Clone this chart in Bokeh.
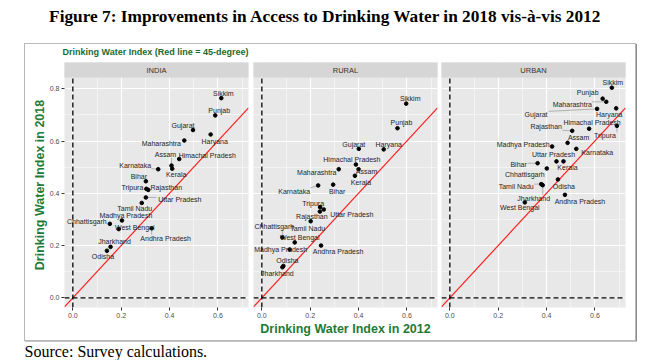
from bokeh.plotting import figure
from bokeh.models import Range1d, FixedTicker, NumeralTickFormatter, Spacer
from bokeh.layouts import row, column
from bokeh.core.properties import value
from bokeh.embed import file_html
from bokeh.resources import INLINE

# ---------------- data ----------------
PANELS = ["INDIA", "RURAL", "URBAN"]

INDIA_STATES = ["Sikkim", "Punjab", "Gujarat", "Haryana", "Maharashtra", "Himachal Pradesh",
                "Assam", "Kerala", "Karnataka", "Bihar", "Tripura", "Rajasthan", "Uttar Pradesh",
                "Tamil Nadu", "Madhya Pradesh", "Chhattisgarh", "West Bengal", "Andhra Pradesh",
                "Jharkhand", "Odisha"]
INDIA_2012 = [0.614, 0.589, 0.497, 0.570, 0.461, 0.440, 0.408, 0.411, 0.353, 0.302,
              0.304, 0.312, 0.302, 0.285, 0.203, 0.153, 0.190, 0.326, 0.156, 0.141]
INDIA_2018 = [0.764, 0.698, 0.642, 0.625, 0.602, 0.531, 0.506, 0.494, 0.492, 0.446,
              0.417, 0.413, 0.384, 0.363, 0.296, 0.283, 0.263, 0.266, 0.195, 0.180]

RURAL_STATES = ["Sikkim", "Punjab", "Gujarat", "Haryana", "Himachal Pradesh", "Maharashtra",
                "Assam", "Kerala", "Karnataka", "Bihar", "Tripura", "Uttar Pradesh", "Rajasthan",
                "Tamil Nadu", "Chhattisgarh", "West Bengal", "Madhya Pradesh", "Andhra Pradesh",
                "Odisha", "Jharkhand"]
RURAL_2012 = [0.597, 0.561, 0.401, 0.504, 0.389, 0.318, 0.400, 0.385, 0.233, 0.295,
              0.241, 0.256, 0.240, 0.202, 0.085, 0.136, 0.115, 0.245, 0.089, 0.085]
RURAL_2018 = [0.743, 0.649, 0.570, 0.568, 0.510, 0.492, 0.492, 0.467, 0.430, 0.433,
              0.347, 0.338, 0.330, 0.293, 0.231, 0.212, 0.185, 0.200, 0.122, 0.117]

URBAN_STATES = ["Sikkim", "Punjab", "Maharashtra", "Gujarat", "Haryana", "Tripura",
                "Himachal Pradesh", "Rajasthan", "Assam", "Madhya Pradesh", "Karnataka",
                "Uttar Pradesh", "Kerala", "Bihar", "Chhattisgarh", "Tamil Nadu", "Odisha",
                "Andhra Pradesh", "West Bengal", "Jharkhand"]
URBAN_2012 = [0.670, 0.632, 0.647, 0.609, 0.688, 0.691, 0.576, 0.506, 0.487, 0.423,
              0.523, 0.441, 0.470, 0.363, 0.401, 0.378, 0.447, 0.476, 0.310, 0.384]
URBAN_2018 = [0.804, 0.762, 0.750, 0.723, 0.725, 0.658, 0.647, 0.639, 0.593, 0.579,
              0.570, 0.522, 0.522, 0.515, 0.495, 0.435, 0.453, 0.394, 0.365, 0.431]

X_TICKS = [0.0, 0.2, 0.4, 0.6]
X_MINOR = [0.1, 0.3, 0.5, 0.7]
Y_TICKS = [0.0, 0.2, 0.4, 0.6, 0.8]
Y_MINOR = [0.1, 0.3, 0.5, 0.7]

TITLE = "Figure 7: Improvements in Access to Drinking Water in 2018 vis-à-vis 2012"
SUBTITLE = "Drinking Water Index (Red line = 45-degree)"
X_TITLE = "Drinking Water Index in 2012"
Y_TITLE = "Drinking Water Index in 2018"
SOURCE = "Source: Survey calculations."

# ---------------- layout / style ----------------
# label offsets (screen px, +dy = down) mimicking repelled labels
LABEL_OFFSETS = {
    "INDIA": {"Sikkim": (2, -5), "Punjab": (4, -5), "Gujarat": (-10, -5), "Haryana": (4, 7),
              "Maharashtra": (-23, 3), "Himachal Pradesh": (28, -4), "Assam": (-6, -11),
              "Kerala": (4, 6), "Karnataka": (-23, -4), "Bihar": (-7, -5), "Tripura": (-14, -1),
              "Rajasthan": (18, -2), "Uttar Pradesh": (34, 2), "Tamil Nadu": (-7, 6),
              "Madhya Pradesh": (4, -5), "Chhattisgarh": (-23, -2), "West Bengal": (16, -2),
              "Andhra Pradesh": (14, 10), "Jharkhand": (4, -5), "Odisha": (-4, 6)},
    "RURAL": {"Sikkim": (4, -5), "Punjab": (4, -6), "Gujarat": (-5, -4), "Haryana": (5, -5),
              "Himachal Pradesh": (-4, -5), "Maharashtra": (-22, 3), "Assam": (8, 2),
              "Kerala": (6, 7), "Karnataka": (-24, 6), "Bihar": (4, 7), "Tripura": (-7, -4),
              "Uttar Pradesh": (28, 5), "Rajasthan": (-8, 5), "Tamil Nadu": (-3, 7),
              "Chhattisgarh": (-8, -11), "West Bengal": (5, -5), "Madhya Pradesh": (-9, 0),
              "Andhra Pradesh": (17, 6), "Odisha": (4, -5), "Jharkhand": (-5, 6)},
    "URBAN": {"Sikkim": (1, -5), "Punjab": (-15, -6), "Maharashtra": (-34, 3), "Gujarat": (-61, 6),
              "Haryana": (-7, 6), "Tripura": (-12, 10), "Himachal Pradesh": (3, -6),
              "Rajasthan": (-26, -4), "Assam": (11, -5), "Madhya Pradesh": (-29, -2),
              "Karnataka": (21, 4), "Uttar Pradesh": (-3, -7), "Kerala": (4, 6), "Bihar": (-19, 1),
              "Chhattisgarh": (-22, 6), "Tamil Nadu": (-25, 2), "Odisha": (6, 7),
              "Andhra Pradesh": (15, 7), "West Bengal": (-5, 5), "Jharkhand": (-9, 13)},
}

X0, X1 = -0.0345, 0.7265
Y0, PANEL_TOP = -0.037, 0.843
FRAME_W = 184
PANEL_H = 230
STRIP_H = 15
FRAME_H = PANEL_H + STRIP_H
Y1 = PANEL_TOP + STRIP_H * (PANEL_TOP - Y0) / PANEL_H
SX = FRAME_W / (X1 - X0)
SY = PANEL_H / (PANEL_TOP - Y0)
CHAR_W = 3.6
HALF_H = 3.5

BORDER_L = [39, 3, 2]
BORDER_R = [2, 2, 10]
BORDER_T = 5
BORDER_B = 33
BOX_W = sum(BORDER_L) + sum(BORDER_R) + 3 * FRAME_W
SUB_H = 13

PANEL_BG = "#E8E8E8"
STRIP_BG = "#D6D6D6"
GREEN = "#1E7A38"
SUB_GREEN = "#1B6A2E"
SANS = "Liberation Sans"
SERIF = "Liberation Serif"


def label_geometry(states, xs, ys, offsets):
    lx, ly, s0x, s0y, s1x, s1y = [], [], [], [], [], []
    for s, x, y in zip(states, xs, ys):
        dx, dy = offsets[s]
        lx.append(x + dx / SX)
        ly.append(y - dy / SY)
        hw = CHAR_W * len(s) / 2
        nx = min(max(0, dx - hw), dx + hw)
        ny = min(max(0, dy - HALF_H), dy + HALF_H)
        if (nx * nx + ny * ny) ** 0.5 > 6:
            s0x.append(x)
            s0y.append(y)
            s1x.append(x + nx / SX)
            s1y.append(y - ny / SY)
    return lx, ly, (s0x, s0y, s1x, s1y)


def make_panel(i, name, states, xs, ys):
    first = i == 0
    p = figure(frame_width=FRAME_W, frame_height=FRAME_H,
               x_range=Range1d(X0, X1), y_range=Range1d(Y0, Y1),
               output_backend="svg", toolbar_location=None,
               y_axis_location="left" if first else None,
               min_border_left=BORDER_L[i], min_border_right=BORDER_R[i],
               min_border_top=BORDER_T, min_border_bottom=BORDER_B)
    p.background_fill_color = PANEL_BG
    p.border_fill_color = "white"
    p.outline_line_color = None

    p.xgrid.ticker = FixedTicker(ticks=X_TICKS, minor_ticks=X_MINOR)
    p.ygrid.ticker = FixedTicker(ticks=Y_TICKS, minor_ticks=Y_MINOR)
    for g in list(p.xgrid) + list(p.ygrid):
        g.grid_line_color = "white"
        g.grid_line_width = 1.1
        g.minor_grid_line_color = "white"
        g.minor_grid_line_width = 0.5

    p.xaxis.ticker = FixedTicker(ticks=X_TICKS)
    if first:
        p.yaxis.ticker = FixedTicker(ticks=Y_TICKS)
    for ax in p.axis:
        ax.axis_line_color = None
        ax.major_tick_line_color = "#333333"
        ax.major_tick_in = 0
        ax.major_tick_out = 3
        ax.minor_tick_line_color = None
        ax.major_label_text_font = SANS
        ax.major_label_text_font_size = "7px"
        ax.major_label_text_color = "#4D4D4D"
        ax.major_label_standoff = 2
        ax.formatter = NumeralTickFormatter(format="0.0")
        ax.axis_label_text_font = SANS
        ax.axis_label_text_font_size = "12.5px"
        ax.axis_label_text_font_style = "bold"
        ax.axis_label_text_color = GREEN
    if first:
        p.yaxis.axis_label = Y_TITLE
        p.yaxis.axis_label_standoff = 0
    if i == 1:
        p.xaxis.axis_label = X_TITLE
        p.xaxis.axis_label_standoff = 1

    # 45-degree line
    p.line([X0, X1], [X0, X1], line_color="#FF1F1F", line_width=1.2)
    # dashed reference lines
    p.segment(x0=[0, X0], y0=[Y0, 0], x1=[0, X1], y1=[PANEL_TOP, 0],
              line_color="black", line_width=1.3, line_dash="5 3")

    lx, ly, segs = label_geometry(states, xs, ys, LABEL_OFFSETS[name])
    if segs[0]:
        p.segment(x0=segs[0], y0=segs[1], x1=segs[2], y1=segs[3],
                  line_color="#8C8C8C", line_width=0.6)
    p.scatter(xs, ys, size=3.6, color="black")
    p.text(x=lx, y=ly, text=states, text_font=value(SANS), text_font_size="7px",
           text_align="center", text_baseline="middle", text_color="#1F1F1F")

    # facet strip
    p.quad(left=[X0 - 1], right=[X1 + 1], bottom=[PANEL_TOP], top=[Y1 + 1],
           fill_color=STRIP_BG, line_color=None)
    p.text(x=[(X0 + X1) / 2], y=[(PANEL_TOP + Y1) / 2], text=[name], text_font=value(SANS),
           text_font_size="7.5px", text_align="center", text_baseline="middle",
           text_color="#333333")
    return p


data = [(INDIA_STATES, INDIA_2012, INDIA_2018),
        (RURAL_STATES, RURAL_2012, RURAL_2018),
        (URBAN_STATES, URBAN_2012, URBAN_2018)]
panels = [make_panel(i, n, *d) for i, (n, d) in enumerate(zip(PANELS, data))]


def blank(w, h):
    f = figure(width=w, height=h, x_range=Range1d(0, w), y_range=Range1d(0, h),
               output_backend="svg", toolbar_location=None, min_border=0,
               x_axis_location=None, y_axis_location=None)
    f.outline_line_color = None
    f.background_fill_color = "white"
    f.border_fill_color = "white"
    f.grid.visible = False
    return f


HEADER_H = 43
FOOTER_H = 19
header = blank(650, HEADER_H)
header.text(x=[325], y=[HEADER_H - 15.5], text=[TITLE], text_font=value(SERIF),
            text_font_size="17.3px", text_font_style="bold", text_align="center",
            text_baseline="middle", text_color="black")

subtitle = blank(BOX_W, SUB_H)
subtitle.text(x=[37], y=[SUB_H - 7], text=[SUBTITLE], text_font=value(SANS),
              text_font_size="9px", text_font_style="bold", text_align="left",
              text_baseline="middle", text_color=SUB_GREEN)

footer = blank(650, FOOTER_H)
footer.text(x=[24], y=[FOOTER_H - 10], text=[SOURCE], text_font=value(SERIF),
            text_font_size="16px", text_align="left", text_baseline="middle",
            text_color="black")

box = column(subtitle, row(*panels),
             styles={"border": "1px solid #B8B8B8", "box-shadow": "1px 1px 0px #8A8A8A"})
layout = column(header, row(Spacer(width=24), box), footer)

open("out.html", "w").write(file_html(layout, INLINE))
